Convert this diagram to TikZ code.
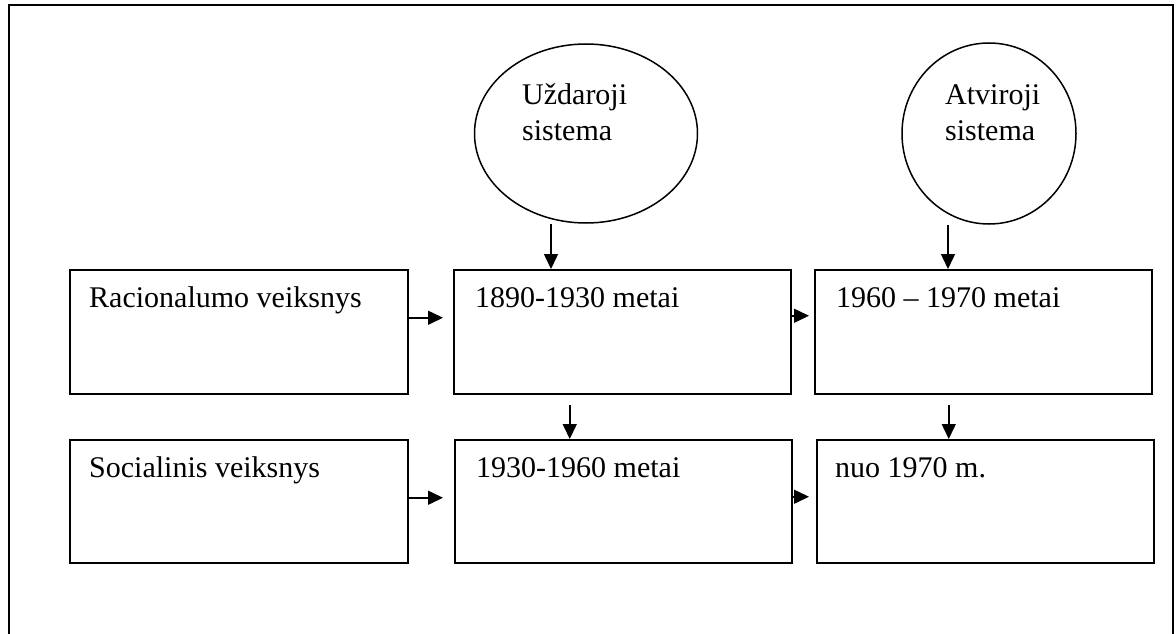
\documentclass[tikz,border=0pt]{standalone}
\usepackage{fontspec}
\setmainfont{Liberation Serif}
\usetikzlibrary{arrows.meta,shapes.geometric}
\begin{document}
\begin{tikzpicture}[x=1pt,y=-1pt,
  boxnode/.style={draw,line width=1.5pt,rectangle,anchor=north west,inner sep=0pt},
  ellnode/.style={draw,line width=1.5pt,ellipse,inner sep=0pt},
  txt/.style={anchor=base west,inner sep=0pt,font=\fontsize{30}{35}\selectfont},
  arr/.style={line width=1.5pt,-{Triangle[length=15pt,width=14pt]}}]
\useasboundingbox (0,0) rectangle (1176,634);
\draw[line width=2.5pt] (9,650) -- (9,5) -- (1173,5) -- (1173,650);
% boxes
\node[boxnode,minimum width=338pt,minimum height=124pt] (b1) at (69,269) {};
\node[boxnode,minimum width=337pt,minimum height=124pt] (b2) at (453,269) {};
\node[boxnode,minimum width=337pt,minimum height=124pt] (b3) at (814,269) {};
\node[boxnode,minimum width=338pt,minimum height=123pt] (b4) at (69,439) {};
\node[boxnode,minimum width=337pt,minimum height=123pt] (b5) at (454,439) {};
\node[boxnode,minimum width=337pt,minimum height=123pt] (b6) at (816,439) {};
% ellipses
\node[ellnode,minimum width=223pt,minimum height=179pt] (e1) at (586,133.5) {};
\node[ellnode,minimum width=174pt,minimum height=181pt] (e2) at (989,133.5) {};
% texts
\node[txt] (t1) at (89,307) {Racionalumo veiksnys};
\node[txt] (t2) at (475,307) {1890-1930 metai};
\node[txt] (t3) at (836,307) {1960 – 1970 metai};
\node[txt] (t4) at (89,477) {Socialinis veiksnys};
\node[txt] (t5) at (476,477) {1930-1960 metai};
\node[txt] (t6) at (835,477) {nuo 1970 m.};
\node[txt] (u1) at (522,104) {Uždaroji};
\node[txt] (u2) at (522,140) {sistema};
\node[txt] (a1) at (945,104) {Atviroji};
\node[txt] (a2) at (945,140) {sistema};
% arrows
\draw[arr] ([xshift=-35pt]e1.south) -- ([xshift=-35pt]e1.south |- b2.north);
\draw[arr] ([xshift=-41pt]e2.south) -- ([xshift=-41pt]e2.south |- b3.north);
\draw[arr] ([yshift=14pt]b1.east) -- ([yshift=14pt,xshift=-10pt]b2.west);
\draw[arr] ([yshift=16pt]b2.east) -- ([yshift=16pt,xshift=-5pt]b3.west);
\draw[arr] ([yshift=3.5pt]b4.east) -- ([yshift=3.5pt,xshift=-11pt]b5.west);
\draw[arr] ([yshift=4.5pt]b5.east) -- ([yshift=4.5pt,xshift=-7pt]b6.west);
\draw[arr] ([xshift=-52.5pt,yshift=-10pt]b2.south) -- ([xshift=-52.5pt]b2.south |- b5.north);
\draw[arr] ([xshift=-34.5pt,yshift=-10pt]b3.south) -- ([xshift=-34.5pt]b3.south |- b6.north);
\end{tikzpicture}
\end{document}
